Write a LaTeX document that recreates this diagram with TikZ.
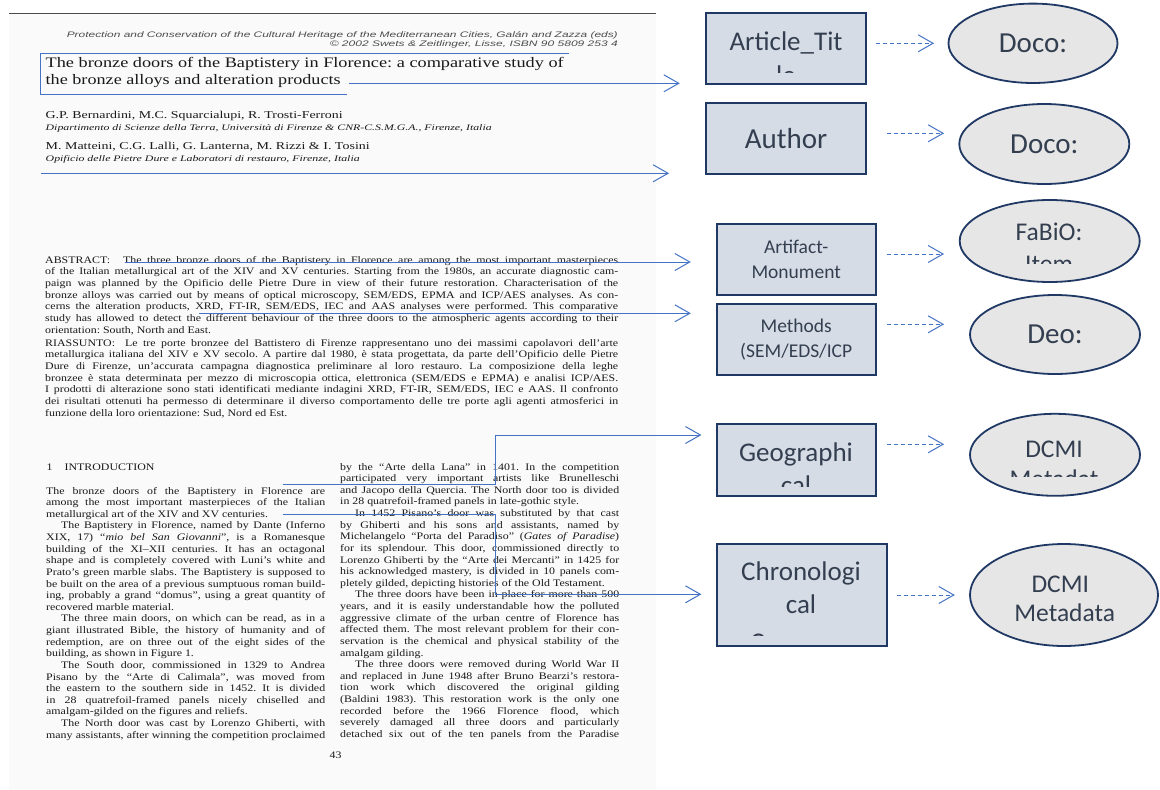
\documentclass[tikz,border=0pt]{standalone}
\usepackage{fontspec}
\usepackage{graphicx}
\setmainfont{Liberation Serif}[FakeStretch=1.19]
\newfontfamily\hdrfont{Liberation Sans}
\newfontfamily\boxfont{Carlito}
\usetikzlibrary{shapes.geometric,arrows.meta}
\frenchspacing

\definecolor{linkblue}{RGB}{68,114,196}
\definecolor{boxfill}{RGB}{214,220,229}
\definecolor{boxline}{RGB}{31,56,100}
\definecolor{ovalfill}{RGB}{231,230,230}
\definecolor{boxtext}{RGB}{51,63,80}

% one justified line of the scanned page
\newcommand\jline[2]{\makebox[#1][s]{#2}}

\tikzset{
  pline/.style={anchor=base west, inner sep=0pt, text=black!90,
    font=\fontsize{10}{11.6}\selectfont},
  link/.style={linkblue, line width=1pt, -{Straight Barb[length=15pt,width=17pt]}},
  dlink/.style={link, dash pattern=on 4pt off 3pt},
  srcbox/.style={draw=boxline, line width=1.8pt, fill=boxfill, text=boxtext,
    inner sep=0pt, align=center},
  oval/.style={ellipse, draw=boxline, line width=1.8pt, fill=ovalfill,
    text=boxtext, inner sep=0pt, align=center},
  lbl/.style={text=boxtext, inner sep=0pt, anchor=base,
    font=\boxfont\fontsize{27}{33}\selectfont},
  lblbig/.style={font=\boxfont\fontsize{29}{35}\selectfont},
  lblmid/.style={font=\boxfont\fontsize{25.5}{30}\selectfont},
  lblsmall/.style={font=\boxfont\fontsize{19.5}{25}\selectfont},
}

\begin{document}
\begin{tikzpicture}[x=1pt,y=-1pt]
\useasboundingbox (0,0) rectangle (1160,790);

% the scanned page
\fill[black!2] (9,14) rectangle (656,790);
\draw[black!70, line width=1pt] (9,13.3) -- (656,13.3);

\node[pline, anchor=base east, text=black!70, font=\hdrfont\itshape\fontsize{8}{10}\selectfont] (hdr1) at (618,37)
  {\resizebox{551pt}{\height}{Protection and Conservation of the Cultural Heritage of the Mediterranean Cities, Galán and Zazza (eds)}};
\node[pline, anchor=base east, text=black!70, font=\hdrfont\itshape\fontsize{8}{10}\selectfont] (hdr2) at (618,46.5)
  {\resizebox{288pt}{\height}{© 2002 Swets \& Zeitlinger, Lisse, ISBN 90 5809 253 4}};

\node[pline, font=\fontsize{14.5}{17}\selectfont] (ttl1) at (45.5,67.5)
  {\resizebox{518pt}{\height}{The bronze doors of the Baptistery in Florence: a comparative study of}};
\node[pline, font=\fontsize{14.5}{17}\selectfont] (ttl2) at (45.5,84)
  {\resizebox{295pt}{\height}{the bronze alloys and alteration products}};

\node[pline, font=\fontsize{10.5}{12}\selectfont] (auth1) at (45.5,118.3)
  {\resizebox{297pt}{\height}{G.P. Bernardini, M.C. Squarcialupi, R. Trosti-Ferroni}};
\node[pline, font=\itshape\fontsize{8.5}{10}\selectfont] (aff1) at (45.5,130)
  {\resizebox{446pt}{\height}{Dipartimento di Scienze della Terra, Università di Firenze \& CNR-C.S.M.G.A., Firenze, Italia}};
\node[pline, font=\fontsize{10.5}{12}\selectfont] (auth2) at (45.5,149.3)
  {\resizebox{324pt}{\height}{M. Matteini, C.G. Lalli, G. Lanterna, M. Rizzi \& I. Tosini}};
\node[pline, font=\itshape\fontsize{8.5}{10}\selectfont] (aff2) at (45.5,161.7)
  {\resizebox{314pt}{\height}{Opificio delle Pietre Dure e Laboratori di restauro, Firenze, Italia}};

% abstract and riassunto
\foreach \txt [count=\i] in {
  {ABSTRACT:\hspace{13pt}The three bronze doors of the Baptistery in Florence are among the most important masterpieces},
  {of the Italian metallurgical art of the XIV and XV centuries. Starting from the 1980s, an accurate diagnostic cam-},
  {paign was planned by the Opificio delle Pietre Dure in view of their future restoration. Characterisation of the},
  {bronze alloys was carried out by means of optical microscopy, SEM/EDS, EPMA and ICP/AES analyses. As con-},
  {cerns the alteration products, XRD, FT-IR, SEM/EDS, IEC and AAS analyses were performed. This comparative},
  {study has allowed to detect the different behaviour of the three doors to the atmospheric agents according to their},
  {orientation: South, North and East.\hfill}}
  \node[pline] (abs\i) at (45,263+11.67*\i-11.67) {\jline{573pt}{\txt}};

\foreach \txt [count=\i] in {
  {RIASSUNTO:\hspace{10pt}Le tre porte bronzee del Battistero di Firenze rappresentano uno dei massimi capolavori dell’arte},
  {metallurgica italiana del XIV e XV secolo. A partire dal 1980, è stata progettata, da parte dell’Opificio delle Pietre},
  {Dure di Firenze, un’accurata campagna diagnostica preliminare al loro restauro. La composizione della leghe},
  {bronzee è stata determinata per mezzo di microscopia ottica, elettronica (SEM/EDS e EPMA) e analisi ICP/AES.},
  {I prodotti di alterazione sono stati identificati mediante indagini XRD, FT-IR, SEM/EDS, IEC e AAS. Il confronto},
  {dei risultati ottenuti ha permesso di determinare il diverso comportamento delle tre porte agli agenti atmosferici in},
  {funzione della loro orientazione: Sud, Nord ed Est.\hfill}}
  \node[pline] (ria\i) at (45,346+11.67*\i-11.67) {\jline{573pt}{\txt}};

\node[pline] (intro) at (46.5,470) {1\hspace{12pt}INTRODUCTION};

% left column
\foreach \txt [count=\i] in {
  {The bronze doors of the Baptistery in Florence are},
  {among the most important masterpieces of the Italian},
  {metallurgical art of the XIV and XV centuries.\hfill},
  {\hspace*{15pt}The Baptistery in Florence, named by Dante (Inferno},
  {XIX, 17) “\textit{mio bel San Giovanni}”, is a Romanesque},
  {building of the XI–XII centuries. It has an octagonal},
  {shape and is completely covered with Luni’s white and},
  {Prato’s green marble slabs. The Baptistery is supposed to},
  {be built on the area of a previous sumptuous roman build-},
  {ing, probably a grand “domus”, using a great quantity of},
  {recovered marble material.\hfill},
  {\hspace*{15pt}The three main doors, on which can be read, as in a},
  {giant illustrated Bible, the history of humanity and of},
  {redemption, are on three out of the eight sides of the},
  {building, as shown in Figure 1.\hfill},
  {\hspace*{15pt}The South door, commissioned in 1329 to Andrea},
  {Pisano by the “Arte di Calimala”, was moved from},
  {the eastern to the southern side in 1452. It is divided},
  {in 28 quatrefoil-framed panels nicely chiselled and},
  {amalgam-gilded on the figures and reliefs.\hfill},
  {\hspace*{15pt}The North door was cast by Lorenzo Ghiberti, with},
  {many assistants, after winning the competition proclaimed}}
  \node[pline] (lc\i) at (46,494+11.63*\i-11.63) {\jline{279pt}{\txt}};

% right column
\foreach \txt [count=\i] in {
  {by the “Arte della Lana” in 1401. In the competition},
  {participated very important artists like Brunelleschi},
  {and Jacopo della Quercia. The North door too is divided},
  {in 28 quatrefoil-framed panels in late-gothic style.\hfill},
  {\hspace*{15pt}In 1452 Pisano’s door was substituted by that cast},
  {by Ghiberti and his sons and assistants, named by},
  {Michelangelo “Porta del Paradiso” (\textit{Gates of Paradise})},
  {for its splendour. This door, commissioned directly to},
  {Lorenzo Ghiberti by the “Arte dei Mercanti” in 1425 for},
  {his acknowledged mastery, is divided in 10 panels com-},
  {pletely gilded, depicting histories of the Old Testament.\hfill},
  {\hspace*{15pt}The three doors have been in place for more than 500},
  {years, and it is easily understandable how the polluted},
  {aggressive climate of the urban centre of Florence has},
  {affected them. The most relevant problem for their con-},
  {servation is the chemical and physical stability of the},
  {amalgam gilding.\hfill},
  {\hspace*{15pt}The three doors were removed during World War II},
  {and replaced in June 1948 after Bruno Bearzi’s restora-},
  {tion work which discovered the original gilding},
  {(Baldini 1983). This restoration work is the only one},
  {recorded before the 1966 Florence flood, which},
  {severely damaged all three doors and particularly},
  {detached six out of the ten panels from the Paradise}}
  \node[pline] (rc\i) at (340,470+11.63*\i-11.63) {\jline{279pt}{\txt}};

\node[pline, anchor=base] (pnum) at (335.5,758) {43};

% metadata boxes
\node[srcbox, minimum width=160pt, minimum height=70.7pt] (b-title) at (786,48.7) {};
\node[srcbox, lblbig, minimum width=160pt, minimum height=70.7pt] (b-author) at (786,138.7) {Author};
\node[srcbox, lblsmall, minimum width=159pt, minimum height=71pt] (art) at (796.2,259.5) {Artifact-\\Monument};
\node[srcbox, lblsmall, minimum width=159pt, minimum height=71pt] (meth) at (796.2,339.5) {Methods\\(SEM/EDS/ICP};
\node[srcbox, minimum width=159pt, minimum height=71.7pt] (geo) at (796.2,459.8) {};
\node[srcbox, minimum width=170pt, minimum height=101.7pt] (chrono) at (801.7,595.2) {};

% ontology classes
\node[oval, lblbig, minimum width=169pt, minimum height=79.4pt] (doco1) at (1033,43.3) {Doco:};
\node[oval, lblbig, minimum width=170pt, minimum height=80pt] (doco2) at (1044.3,144) {Doco:};
\node[oval, minimum width=180pt, minimum height=82pt] (fabio) at (1049.7,241) {};
\node[oval, lblbig, minimum width=170pt, minimum height=79pt] (deo) at (1055,334.5) {Deo:};
\node[oval, minimum width=170pt, minimum height=82pt] (dcmi1) at (1055,454.8) {};
\node[oval, minimum width=188pt, minimum height=102pt] (dcmi2) at (1064,595) {};

% labels, cut off where the text overflows
\node[lbl] (t-title) at (786,50) {Article\_Tit};
\node[lbl, lblmid] (t-fabio) at (1049,240) {FaBiO:};
\node[lbl] (t-geo) at (796,461.7) {Geographi};
\node[lbl, lblmid] (t-dcmi1) at (1054,457.3) {DCMI};
\node[lbl] (t-chrono1) at (801,580) {Chronologi};
\node[lbl] (t-chrono2) at (801,613.3) {cal};
\node[lbl, lblmid] (t-dcmi2a) at (1060.3,592.7) {DCMI};
\node[lbl, lblmid] (t-dcmi2b) at (1064.7,621.7) {Metadata};
\begin{scope}
  \clip (700,60) rectangle (880,72.7);
  \node[lbl] (t-title2) at (786,84) {le};
\end{scope}
\begin{scope}
  \clip (990,250) rectangle (1110,263.3);
  \node[lbl, lblmid] (t-fabio2) at (1049,272.4) {Item};
\end{scope}
\begin{scope}
  \clip (720,470) rectangle (870,486);
  \node[lbl] (t-geo2) at (796,494) {cal};
\end{scope}
\begin{scope}
  \clip (990,465) rectangle (1120,476);
  \node[lbl, lblmid] (t-dcmi1b) at (1054,487.5) {Metadat};
\end{scope}
\begin{scope}
  \clip (720,625) rectangle (880,635);
  \node[lbl] (t-chrono3) at (801,651) {Coverage};
\end{scope}

% links from the page to the boxes
\coordinate (p-title) at (349,83.3);
\coordinate (p-author) at (41,173.3);
\coordinate (p-abs) at (125,262);
\coordinate (p-meth) at (199,313.3);
\coordinate (p-geo) at (283,484.3);
\coordinate (k-geo) at (495,484.3);
\coordinate (p-chrono) at (283,514.3);
\coordinate (k-chrono) at (495,514.3);

\draw[linkblue, line width=1pt] (569,53.3) -- (40.8,53.3) -- (40.8,94.3) -- (347,94.3);
\draw[link, shorten >=25.3pt] (p-title) -- (p-title -| b-title.west);
\draw[link, shorten >=36pt] (p-author) -- (p-author -| b-author.west);
\draw[link, shorten >=25pt] (p-abs) -- (p-abs -| art.west);
\draw[link, shorten >=25pt] (p-meth) -- (p-meth -| meth.west);
\draw[link, shorten >=14.4pt] (p-geo) -- (k-geo) |- ([yshift=24.8pt]geo.west);
\draw[link, shorten >=14.4pt] (p-chrono) -- (k-chrono) |- ([yshift=0.9pt]chrono.west);

% dashed links from the boxes to the classes
\foreach \b/\e/\dx/\dy/\g [count=\i] in {b-title/doco1/9/-5.4/13.5pt, b-author/doco2/20/-5.4/14.3pt,
    art/fabio/10/-5.5/14.7pt, meth/deo/10/-15.2/25pt, geo/dcmi1/10/-15.5/25pt, chrono/dcmi2/9/-0.2/14.3pt} {
  \coordinate (d\i) at ([shift={(\dx,\dy)}]\b.east);
  \draw[dlink, shorten >=\g] (d\i) -- (d\i -| \e.west);
}
\end{tikzpicture}
\end{document}
